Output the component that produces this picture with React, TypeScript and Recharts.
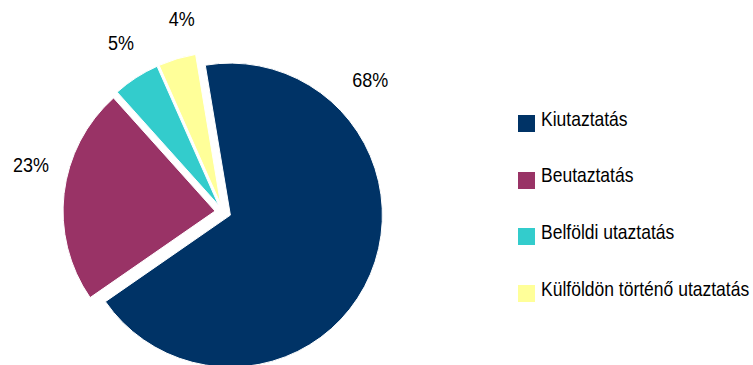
import { Legend, Pie, PieChart, Cell, Sector } from "recharts";

const categories = [
  "Kiutaztatás",
  "Beutaztatás",
  "Belföldi utaztatás",
  "Külföldön történő utaztatás"
];
const shares = [68, 23, 5, 4];
const colors = ["#003366", "#993366", "#33CCCC", "#FFFF99"];

// where Excel put the percentage labels (degrees, counter-clockwise from 3 o'clock)
const labelAngles = [42, 166, 121, 102];

const data = categories.map((name, i) => ({ name, value: shares[i] }));

const RAD = Math.PI / 180;
const EXPLODE = 8;
const FONT = "'Liberation Sans', Arial, sans-serif";

function ExplodedSector(props: any) {
  const { cx, cy, midAngle } = props;
  const dx = EXPLODE * Math.cos(-midAngle * RAD);
  const dy = EXPLODE * Math.sin(-midAngle * RAD);
  return <Sector {...props} cx={cx + dx} cy={cy + dy} />;
}

function renderLabel(props: any) {
  const { cx, cy, index } = props;
  const angle = labelAngles[index];
  const r = 198;
  const x = cx + r * Math.cos(-angle * RAD);
  const y = cy + r * Math.sin(-angle * RAD);
  return (
    <text
      transform={`translate(${x},${y}) scale(1,1.15)`}
      textAnchor="middle"
      dominantBaseline="central"
      fontSize={18}
      fontFamily={FONT}
      fill="#000"
    >
      {shares[index]}%
    </text>
  );
}

function LegendBox() {
  return (
    <div style={{ position: "relative", width: 235, height: 230, fontFamily: FONT }}>
      {categories.map((name, i) => (
        <div key={name} style={{ position: "absolute", left: 0, top: i * 56.7, height: 20 }}>
          <div
            style={{
              position: "absolute",
              left: 0,
              top: 0,
              width: 17,
              height: 17,
              background: colors[i]
            }}
          />
          <span
            style={{
              position: "absolute",
              left: 23,
              top: -4.3,
              fontSize: 17.5,
              lineHeight: 1,
              whiteSpace: "nowrap",
              color: "#000",
              transform: "scaleY(1.15)"
            }}
          >
            {name}
          </span>
        </div>
      ))}
    </div>
  );
}

export default function App() {
  return (
    <div style={{ position: "absolute", left: 0, top: 0, width: 753, height: 365, background: "#fff" }}>
      <PieChart width={753} height={365} margin={{ top: 0, right: 0, bottom: 0, left: 0 }}>
        <Pie
          data={data}
          dataKey="value"
          nameKey="name"
          cx={223}
          cy={212}
          outerRadius={152}
          startAngle={99.5}
          endAngle={-260.5}
          stroke="#fff"
          strokeWidth={1}
          shape={ExplodedSector}
          label={renderLabel}
          labelLine={false}
          isAnimationActive={false}
        >
          {data.map((d, i) => (
            <Cell key={d.name} fill={colors[i]} />
          ))}
        </Pie>
        <Legend
          layout="vertical"
          align="right"
          verticalAlign="top"
          wrapperStyle={{ left: 518, top: 115, width: 235 }}
          content={() => <LegendBox />}
        />
      </PieChart>
    </div>
  );
}
